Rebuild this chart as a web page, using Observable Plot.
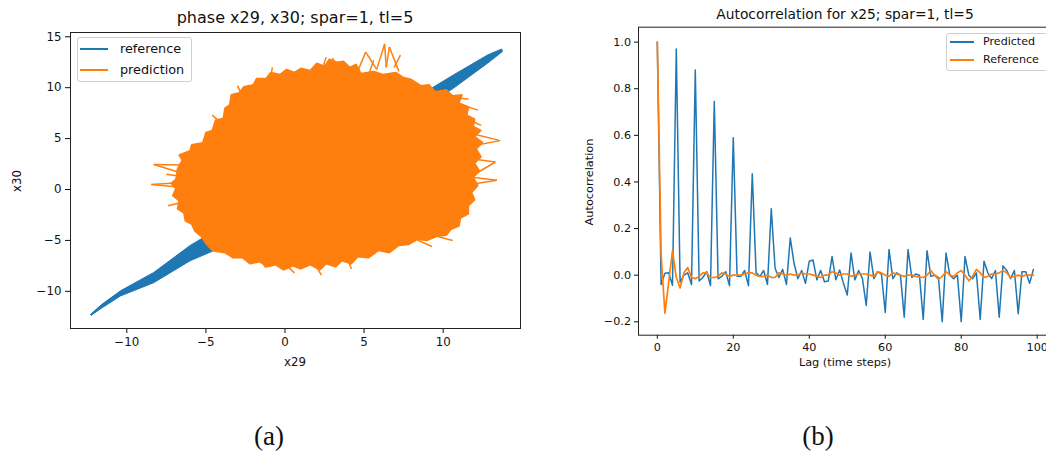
<!DOCTYPE html>
<html><head><meta charset="utf-8">
<script src="https://cdn.jsdelivr.net/npm/d3@7"></script>
<script src="https://cdn.jsdelivr.net/npm/@observablehq/plot@0.6"></script>
<style>
html,body{margin:0;padding:0;background:#fff;width:1046px;height:453px;overflow:hidden;}
#root{position:relative;width:1046px;height:453px;font-family:"DejaVu Sans",sans-serif;color:#111;}
.abs{position:absolute;white-space:nowrap;line-height:1;}
.c{transform:translate(-50%,-50%);}
.rot{transform:translate(-50%,-50%) rotate(-90deg);}
.leg{position:absolute;border:1px solid #d0d0d0;border-radius:3px;background:rgba(255,255,255,0.8);box-sizing:border-box;}
.sw{position:absolute;height:2px;}
.cap{font-family:"Liberation Serif","DejaVu Serif",serif;font-size:27px;}
</style></head><body><div id="root"></div>
<script>
// ---------- Panel (a): phase plot x29 vs x30 ----------
// reference trajectory band (blue), lower-left and upper-right visible parts
const refLowX = [-12.3, -11.6, -10.4, -8.3, -6.0, -5.3, -3.5, -3.5, -4.5, -6.0, -8.3, -10.4, -11.6, -12.25, -12.3];
const refLowY = [-12.27, -11.3, -9.95, -8.15, -5.5, -4.85, -3.3, -5.0, -6.0, -7.0, -9.15, -10.45, -11.65, -12.35, -12.27];
const refHighX = [8.6, 9.0, 10.65, 12.8, 13.7, 13.75, 12.8, 10.65, 9.0, 8.6];
const refHighY = [8.6, 9.7, 11.25, 13.2, 13.8, 13.55, 12.4, 9.95, 8.3, 8.6];
// prediction cloud outline (orange)
const blobX = [-6.9,-6.8,-6.5,-6.7,-6.0,-5.9,-5.2,-5.0,-4.6,-4.4,-3.9,-3.8,-3.5,-3.4,-2.9,-2.6,-2.0,-1.8,-1.2,-0.9,-0.3,0.1,0.6,1.0,1.6,2.0,2.5,2.8,3.3,3.7,4.1,4.5,4.8,5.6,6.2,7.0,7.5,8.0,8.6,9.1,9.5,10.2,10.6,11.2,11.0,11.6,11.5,12.0,11.9,12.4,12.0,12.5,12.1,12.4,12.0,12.3,11.9,12.2,11.8,12.0,11.6,11.6,11.1,11.0,10.5,10.2,9.6,9.0,8.4,7.8,7.2,6.6,5.9,5.3,4.6,4.2,3.6,3.2,2.6,2.2,1.6,1.0,0.5,-0.1,-0.6,-1.1,-1.6,-2.2,-2.7,-3.3,-3.8,-4.3,-4.6,-5.0,-5.3,-5.7,-5.9,-6.3,-6.4,-6.8,-6.7,-7.1,-6.9,-7.2,-6.9];
const blobY = [1.0,2.0,2.9,3.4,3.8,4.4,4.6,5.6,5.8,6.8,7.0,8.0,8.3,9.3,9.5,10.1,10.3,10.9,10.9,11.5,11.3,11.8,11.5,11.9,11.7,12.4,12.1,12.8,12.5,12.6,12.0,12.3,11.4,11.6,11.3,11.5,11.0,10.8,10.2,10.3,9.6,9.8,9.2,9.3,8.5,8.1,7.3,6.9,6.2,5.8,5.2,4.6,4.0,3.2,2.6,1.8,1.2,0.4,-0.3,-1.0,-1.6,-2.4,-2.8,-3.6,-3.9,-4.5,-4.6,-5.0,-4.9,-5.4,-5.5,-6.2,-6.0,-6.7,-6.6,-7.3,-7.0,-7.6,-7.3,-7.9,-7.4,-7.8,-7.5,-7.9,-7.4,-7.6,-7.1,-7.3,-6.7,-6.7,-6.2,-6.1,-6.0,-5.3,-4.6,-4.1,-3.4,-3.1,-2.3,-1.9,-1.1,-0.6,0.1,0.6,1.0];
// outward strokes of the prediction trajectory (inner point -> tip)
const spikeX1 = [-6.5,-6.2,-6.5,-6.4,-6.6,-6.6,4.6,5.1,5.8,6.3,6.4,6.6,6.9,5.3,-0.9,2.4,3.2,11.8,11.9,11.9,12.0,11.8,11.7,11.7,11.0,10.5,9.6,8.4,4.0,2.0,0.2,-1.5,-4.0,-2.8];
const spikeY1 = [1.6,2.4,0.7,0.2,-1.3,1.3,11.6,13.5,11.8,14.3,12.0,14.0,12.0,11.3,11.0,12.0,12.3,5.5,4.3,3.0,1.5,1.2,0.5,6.8,8.4,9.0,-4.6,-5.0,-7.0,-7.6,-7.6,-7.0,6.5,9.5];
const spikeX2 = [-8.3,-8.3,-8.45,-8.45,-7.4,-7.5,5.1,5.8,6.3,6.4,6.6,7.2,7.3,5.6,-0.8,2.6,3.0,13.6,13.6,13.3,13.3,13.4,13.4,12.4,12.2,11.6,10.6,9.3,4.2,2.3,0.6,-1.2,-4.6,-3.0];
const spikeY2 = [2.45,2.45,0.5,0.5,-1.6,1.5,13.5,11.8,14.3,12.0,14.0,11.6,13.2,12.7,12.0,13.0,12.9,4.8,4.8,2.7,2.7,0.9,0.9,6.3,7.8,8.9,-5.0,-5.6,-7.8,-8.4,-8.2,-7.7,7.3,10.2];
const phaseXTicks = [-10, -5, 0, 5, 10];
const phaseYTicks = [-10, -5, 0, 5, 10, 15];

// ---------- Panel (b): autocorrelation ----------
const predicted = [1.0,-0.04,0.008,0.01,-0.043,0.97,-0.03,0.0,0.01,-0.04,
0.88,-0.025,-0.01,0.015,-0.045,0.745,-0.015,-0.005,0.015,-0.045,
0.59,-0.005,-0.005,0.02,-0.045,0.435,0.01,-0.005,0.02,-0.04,
0.285,0.03,-0.01,0.025,-0.04,0.16,0.05,-0.015,0.02,-0.035,
0.06,0.065,-0.02,0.02,-0.028,-0.025,0.08,-0.02,0.022,-0.035,
-0.085,0.095,-0.02,0.02,-0.015,-0.13,0.1,-0.015,0.015,0.005,
-0.16,0.11,-0.015,0.01,0.0,-0.18,0.11,-0.01,0.005,0.0,
-0.19,0.105,-0.005,0.0,-0.01,-0.2,0.095,0.0,-0.015,0.0,
-0.2,0.08,0.0,-0.015,0.01,-0.19,0.06,0.01,-0.015,0.02,
-0.18,0.04,0.02,-0.015,0.02,-0.165,0.015,0.015,-0.035,0.025];
const reference = [1.0,0.09,-0.163,-0.03,0.105,-0.01,-0.055,0.01,0.033,-0.01,
-0.015,-0.005,0.01,0.01,-0.01,-0.01,-0.005,0.01,0.005,-0.005,
0.0,0.0,0.0,0.005,0.01,0.01,0.0,-0.005,-0.005,0.0,
-0.01,-0.01,0.01,0.005,0.0,0.005,0.0,0.0,0.01,0.005,
0.005,0.0,-0.005,-0.01,0.0,0.0,0.015,0.01,0.0,0.005,
0.005,-0.005,0.0,0.005,0.005,0.005,0.0,-0.005,0.015,0.01,
0.0,-0.005,0.01,0.005,0.0,-0.005,0.0,0.0,-0.005,-0.008,
-0.01,0.0,0.02,0.0,-0.018,-0.005,0.015,0.0,-0.005,0.01,
0.02,0.0,-0.024,-0.005,0.025,0.01,-0.01,-0.005,0.005,0.005,
0.01,0.02,0.01,-0.01,-0.005,0.0,-0.005,0.0,0.0,0.0];
const lagTicks = [0, 20, 40, 60, 80, 100];
const acfTicks = [-0.2, 0.0, 0.2, 0.4, 0.6, 0.8, 1.0];

const BLUE = "#1f77b4", ORANGE = "#ff7f0e";
const minus = s => s.replace("-", "\u2212");

const root = document.getElementById("root");
function place(el, left, top) {
  el.style.position = "absolute"; el.style.left = left + "px"; el.style.top = top + "px";
  root.appendChild(el);
}
function txt(text, x, y, cls, size, extra) {
  const d = document.createElement("div");
  d.className = "abs " + cls; d.textContent = text;
  d.style.left = x + "px"; d.style.top = y + "px"; d.style.fontSize = size + "px";
  if (extra) Object.assign(d.style, extra);
  root.appendChild(d); return d;
}

// Panel (a)
const blob = blobX.map((x, i) => ({x, y: blobY[i]}));
const refLow = refLowX.map((x, i) => ({x, y: refLowY[i]}));
const refHigh = refHighX.map((x, i) => ({x, y: refHighY[i]}));
const spikes = spikeX1.map((x1, i) => ({x1, y1: spikeY1[i], x2: spikeX2[i], y2: spikeY2[i]}));

const pa = Plot.plot({
  width: 530, height: 380,
  marginLeft: 70, marginRight: 10, marginTop: 32, marginBottom: 52,
  style: {fontFamily: "DejaVu Sans", fontSize: "11.8px", color: "#111", background: "white", overflow: "visible"},
  x: {domain: [-13.56, 14.89], ticks: phaseXTicks, label: null, tickSize: 5, tickPadding: 4, tickFormat: d => minus(String(d))},
  y: {domain: [-13.65, 15.42], ticks: phaseYTicks, label: null, tickSize: 5, tickPadding: 4, tickFormat: d => minus(String(d))},
  marks: [
    Plot.line(refLow, {x: "x", y: "y", fill: BLUE, stroke: BLUE, strokeWidth: 1}),
    Plot.line(refHigh, {x: "x", y: "y", fill: BLUE, stroke: BLUE, strokeWidth: 1}),
    Plot.link(spikes, {x1: "x1", y1: "y1", x2: "x2", y2: "y2", stroke: ORANGE, strokeWidth: 1.5}),
    Plot.line(blob, {x: "x", y: "y", fill: ORANGE, stroke: ORANGE, strokeWidth: 1.5, strokeLinejoin: "miter"}),
    Plot.frame({stroke: "#222", strokeWidth: 1})
  ]
});
place(pa, 0, 0);

// Panel (b)
const rows = predicted.map((p, i) => ({lag: i, p, r: reference[i]}));
const pb = Plot.plot({
  width: 520, height: 380,
  marginLeft: 98, marginRight: 8.3, marginTop: 26.7, marginBottom: 45.3,
  style: {fontFamily: "DejaVu Sans", fontSize: "11.2px", color: "#111", background: "white", overflow: "visible"},
  x: {domain: [-4.95, 103.95], ticks: lagTicks, label: null, tickSize: 4, tickPadding: 3.5},
  y: {domain: [-0.2575, 1.064], ticks: acfTicks, label: null, tickSize: 4, tickPadding: 3.5, tickFormat: d => minus(d.toFixed(1))},
  marks: [
    Plot.line(rows, {x: "lag", y: "p", stroke: BLUE, strokeWidth: 1.5}),
    Plot.line(rows, {x: "lag", y: "r", stroke: ORANGE, strokeWidth: 1.7}),
    Plot.frame({stroke: "#222", strokeWidth: 1})
  ]
});
place(pb, 540, 0);

// Titles and axis labels
txt("phase x29, x30; spar=1, tl=5", 295, 17.5, "c", 16);
txt("x29", 295, 362.5, "c", 11.8);
txt("x30", 18, 181, "rot", 11.8);
txt("Autocorrelation for x25; spar=1, tl=5", 845, 15, "c", 13.8);
txt("Lag (time steps)", 845, 363, "c", 11.3);
txt("Autocorrelation", 590, 182, "rot", 11.3);

// Legends
function legend(x, y, w, h, items, sw0, sw1, tx, rowY, size) {
  const box = document.createElement("div");
  box.className = "leg";
  Object.assign(box.style, {left: x + "px", top: y + "px", width: w + "px", height: h + "px"});
  root.appendChild(box);
  items.forEach((it, i) => {
    const s = document.createElement("div");
    s.className = "sw";
    Object.assign(s.style, {left: sw0 + "px", top: (rowY[i] - 1) + "px", width: (sw1 - sw0) + "px", background: it.color});
    root.appendChild(s);
    txt(it.label, tx, rowY[i], "", size, {transform: "translateY(-50%)"});
  });
}
legend(77, 37, 115, 45, [{label: "reference", color: BLUE}, {label: "prediction", color: ORANGE}], 80, 108, 120, [49, 70], 12.8);
legend(946, 33, 104, 38, [{label: "Predicted", color: BLUE}, {label: "Reference", color: ORANGE}], 950, 974, 983, [42, 60], 11.1);

// Captions
txt("(a)", 269, 436, "c cap", 27);
txt("(b)", 818, 436, "c cap", 27);
</script></body></html>
